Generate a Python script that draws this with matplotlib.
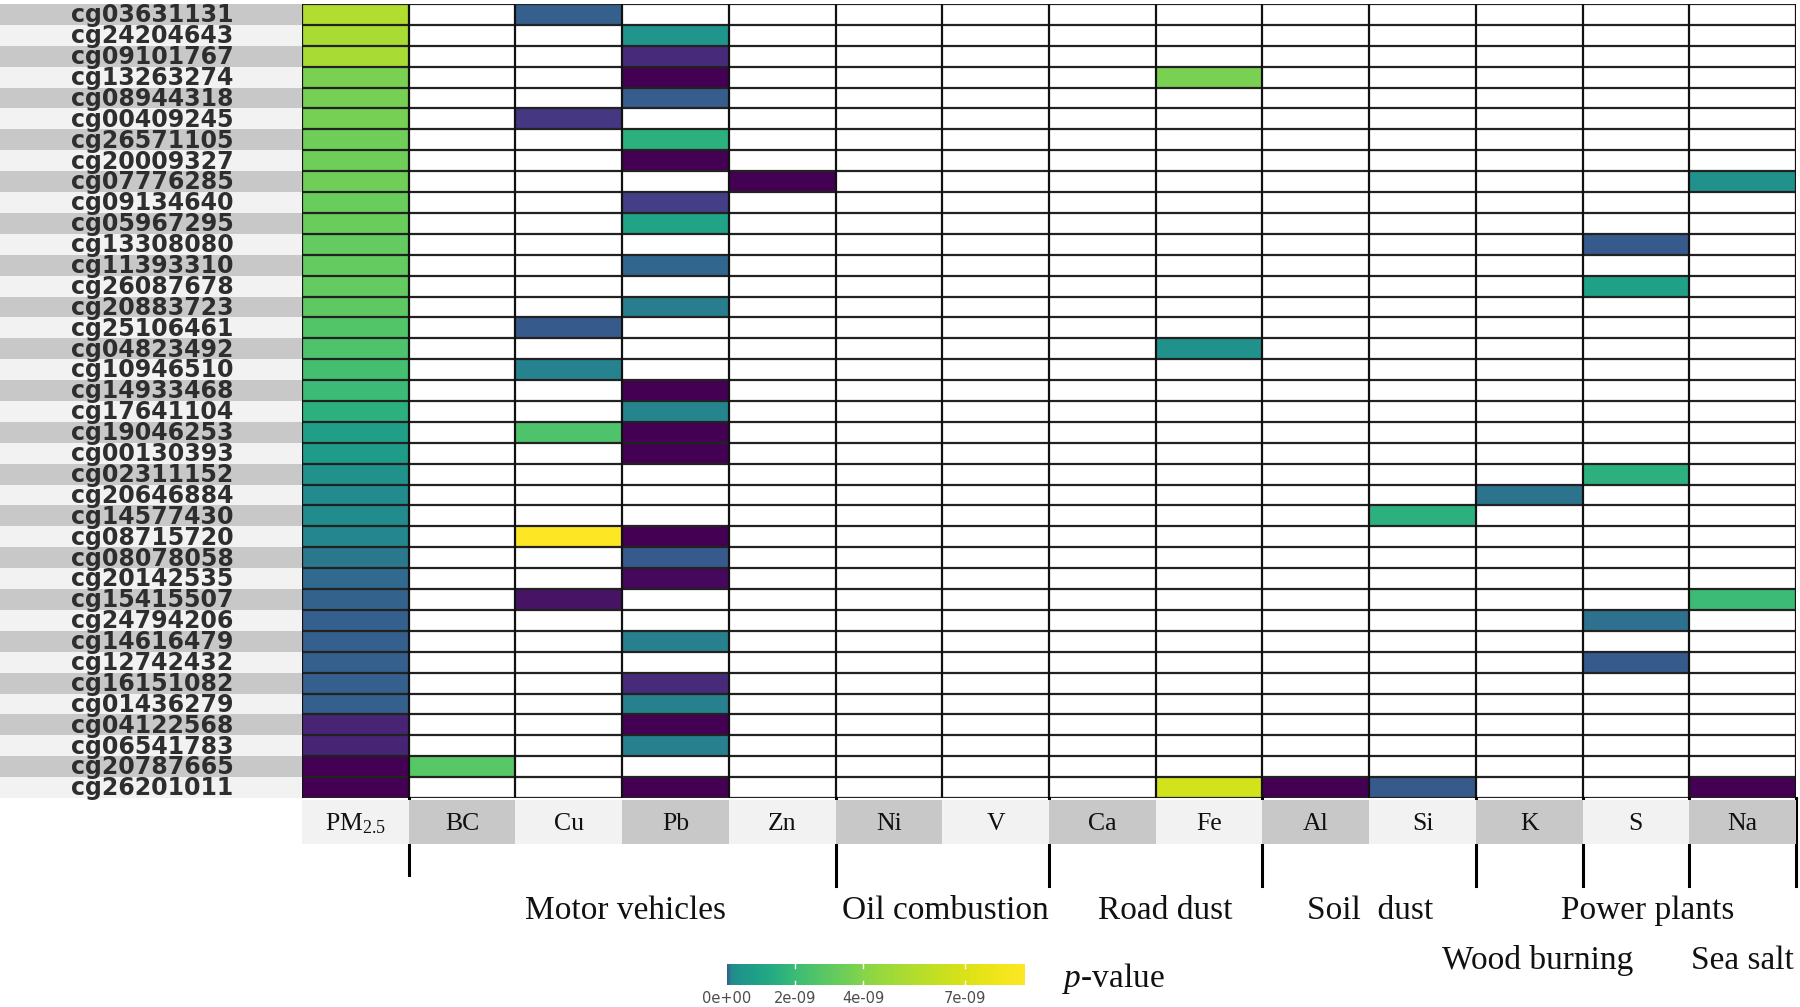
import matplotlib
matplotlib.use("Agg")
import matplotlib.pyplot as plt
import matplotlib.transforms as mtransforms
import numpy as np

# CpG sites, top to bottom
cpgs = ["cg03631131", "cg24204643", "cg09101767", "cg13263274", "cg08944318",
        "cg00409245", "cg26571105", "cg20009327", "cg07776285", "cg09134640",
        "cg05967295", "cg13308080", "cg11393310", "cg26087678", "cg20883723",
        "cg25106461", "cg04823492", "cg10946510", "cg14933468", "cg17641104",
        "cg19046253", "cg00130393", "cg02311152", "cg20646884", "cg14577430",
        "cg08715720", "cg08078058", "cg20142535", "cg15415507", "cg24794206",
        "cg14616479", "cg12742432", "cg16151082", "cg01436279", "cg04122568",
        "cg06541783", "cg20787665", "cg26201011"]

sources = ["PM$_{2.5}$", "BC", "Cu", "Pb", "Zn", "Ni", "V", "Ca", "Fe",
           "Al", "Si", "K", "S", "Na"]

# colour level of each cell (0 = smallest p, 1 = largest)
pm25 = [0.88, 0.87, 0.87, 0.80, 0.79, 0.79, 0.78, 0.78, 0.78, 0.77,
        0.77, 0.76, 0.76, 0.76, 0.75, 0.73, 0.72, 0.70, 0.68, 0.64,
        0.56, 0.55, 0.50, 0.48, 0.48, 0.46, 0.40, 0.34, 0.31, 0.30,
        0.30, 0.30, 0.30, 0.30, 0.10, 0.10, 0.0, 0.0]
bc = {"cg20787665": 0.74}
cu = {"cg03631131": 0.30, "cg00409245": 0.16, "cg25106461": 0.28,
      "cg10946510": 0.44, "cg19046253": 0.72, "cg08715720": 1.0,
      "cg15415507": 0.05}
pb = {"cg24204643": 0.52, "cg09101767": 0.12, "cg13263274": 0.0,
      "cg08944318": 0.29, "cg26571105": 0.64, "cg20009327": 0.0,
      "cg09134640": 0.18, "cg05967295": 0.58, "cg11393310": 0.33,
      "cg20883723": 0.42, "cg14933468": 0.0, "cg17641104": 0.45,
      "cg19046253": 0.0, "cg00130393": 0.0, "cg08715720": 0.0,
      "cg08078058": 0.28, "cg20142535": 0.02, "cg14616479": 0.43,
      "cg16151082": 0.12, "cg01436279": 0.43, "cg04122568": 0.0,
      "cg06541783": 0.43, "cg26201011": 0.0}
zn = {"cg07776285": 0.0}
ni = {}
v = {}
ca = {}
fe = {"cg13263274": 0.80, "cg04823492": 0.50, "cg26201011": 0.93}
al = {"cg26201011": 0.0}
si = {"cg14577430": 0.64, "cg26201011": 0.28}
k = {"cg20646884": 0.38}
s = {"cg13308080": 0.28, "cg26087678": 0.57, "cg02311152": 0.64,
     "cg24794206": 0.37, "cg12742432": 0.28}
na = {"cg07776285": 0.50, "cg15415507": 0.68, "cg26201011": 0.0}

groups = ["Motor vehicles", "Oil combustion", "Road dust", "Soil  dust",
          "Wood burning", "Power plants", "Sea salt"]
group_cols = [(1, 5), (5, 7), (7, 9), (9, 11), (11, 12), (12, 13), (13, 14)]
group_line = [0, 0, 0, 0, 1, 0, 1]
group_shift = [0.03, 0.03, 0.09, 0.01, 0.08, 0.11, 0.0]

cb_ticks = [0, 2e-9, 4e-9, 7e-9]
cb_labels = ["0e+00", "2e-09", "4e-09", "7e-09"]
cb_max = 8.76e-9

# build the grid
n_rows, n_cols = len(cpgs), len(sources)
grid = np.full((n_rows, n_cols), np.nan)
grid[:, 0] = pm25
for j, col in enumerate([bc, cu, pb, zn, ni, v, ca, fe, al, si, k, s, na], start=1):
    for cpg, val in col.items():
        grid[cpgs.index(cpg), j] = val

W, H = 1800, 1007
fig = plt.figure(figsize=(W / 100, H / 100), dpi=100)
fig.patch.set_facecolor("white")

def px_box(x0, y0, x1, y1):
    return [x0 / W, 1 - y1 / H, (x1 - x0) / W, (y1 - y0) / H]

dark, light = "#c8c8c8", "#f2f2f2"
serif = "Liberation Serif"
plt.rcParams["mathtext.fontset"] = "custom"
plt.rcParams["mathtext.rm"] = serif
plt.rcParams["mathtext.it"] = serif + ":italic"

# heatmap
ax = fig.add_axes(px_box(302, 4, 1796, 798))
ax.pcolormesh(np.ma.masked_invalid(grid), cmap="viridis", vmin=0, vmax=1,
              edgecolors="#111111", linewidth=1.2)
for i in range(n_rows + 1):
    ax.axhline(i, color="#222222", lw=1.6, zorder=3)
for j in range(n_cols + 1):
    ax.axvline(j, color="#111111", lw=1.6, zorder=3)
ax.set_xlim(0, n_cols)
ax.set_ylim(n_rows, 0)
ax.axis("off")

# row labels with alternating bands
ax_r = fig.add_axes(px_box(0, 4, 302, 798))
ax_r.barh(np.arange(n_rows) + 0.5, 1, height=1, left=0,
          color=[dark if i % 2 == 0 else light for i in range(n_rows)])
for i, name in enumerate(cpgs):
    ax_r.text(0.505, i + 0.54, name, ha="center", va="center",
              fontsize=17, fontweight="bold", color="#2e2e2e",
              family="DejaVu Sans")
ax_r.set_xlim(0, 1)
ax_r.set_ylim(n_rows, 0)
ax_r.axis("off")

# column labels with alternating bands
ax_c = fig.add_axes(px_box(302, 800, 1796, 844))
ax_c.bar(np.arange(n_cols) + 0.5, 1, width=1,
         color=[light if j % 2 == 0 else dark for j in range(n_cols)])
for j, name in enumerate(sources):
    ax_c.text(j + 0.5, 0.45, name, ha="center", va="center",
              fontsize=18.5, family=serif, color="#111111")
ax_c.set_xlim(0, n_cols)
ax_c.set_ylim(0, 1)
ax_c.axis("off")

# group separators and names
blend = mtransforms.blended_transform_factory(ax.transData, fig.transFigure)
bounds = sorted({b for g in group_cols for b in g})
for b in bounds:
    y_end = 875 if b == 1 else 886
    ax.plot([b, b], [1 - 798 / H, 1 - y_end / H], transform=blend,
            color="black", lw=2.2, clip_on=False, zorder=5)
for name, (c0, c1), lvl, dx in zip(groups, group_cols, group_line, group_shift):
    y = 911 if lvl == 0 else 961
    ax.text((c0 + c1) / 2 + dx, 1 - y / H, name, transform=blend, ha="center",
            va="center", fontsize=24, family=serif, color="#111111")

# colour bar
ax_cb = fig.add_axes(px_box(727, 964, 1025, 985))
frac = np.linspace(0, 1, 400)
levels = np.interp(frac, [0, 0.015, 0.05, 0.25, 0.5, 0.85, 1.0],
                   [0.30, 0.48, 0.53, 0.70, 0.84, 0.96, 1.0])
ax_cb.imshow(levels[None, :], cmap="viridis", vmin=0, vmax=1, aspect="auto",
             extent=[0, cb_max, 0, 1])
for t in cb_ticks[1:]:
    ax_cb.plot([t, t], [0, 0.2], color="white", lw=1)
    ax_cb.plot([t, t], [0.8, 1], color="white", lw=1)
ax_cb.set_xlim(0, cb_max)
ax_cb.set_ylim(0, 1)
ax_cb.set_xticks(cb_ticks)
ax_cb.set_xticklabels(cb_labels, fontsize=10.5, color="#4d4d4d")
ax_cb.tick_params(axis="x", length=0, pad=4)
ax_cb.set_yticks([])
for sp in ax_cb.spines.values():
    sp.set_visible(False)

fig.text(1062 / W, 1 - 978 / H, "$\\mathit{p}$-value", ha="left", va="center",
         fontsize=24, family=serif, color="#111111")

fig.savefig("out.png", dpi=100)
